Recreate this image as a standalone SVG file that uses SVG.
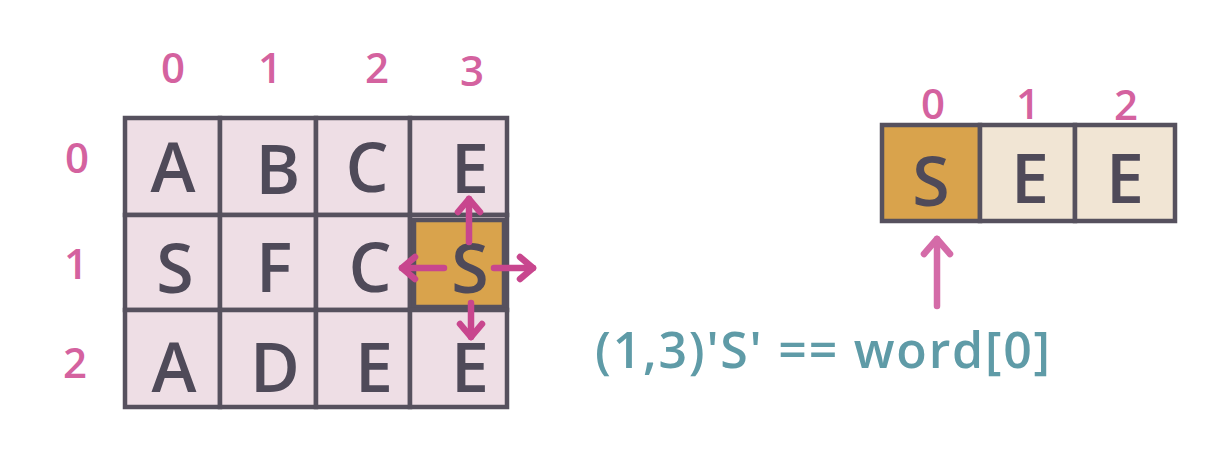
<svg xmlns="http://www.w3.org/2000/svg" width="1210" height="467" viewBox="0 0 1210 467">
<style>
.cell{fill:#EEDEE5;stroke:#56515E;stroke-width:4.5}
.hl{fill:#D9A34C;stroke:#56515E;stroke-width:4.5}
.acell{fill:#F1E5D4;stroke:#56515E;stroke-width:4.5}
.ltr{font-family:"Open Sans","Liberation Sans",sans-serif;font-size:68px;font-weight:600;fill:#4F4A59;text-anchor:middle}
.idx{font-family:"Open Sans","Liberation Sans",sans-serif;font-size:42px;font-weight:600;fill:#D4629F;text-anchor:middle}
.note{font-family:"Open Sans","Liberation Sans",sans-serif;font-size:50px;font-weight:600;fill:#5F9BA7}
.arr{fill:none;stroke:#C8468E;stroke-width:6.5;stroke-linecap:round;stroke-linejoin:round}
.arr2{fill:none;stroke:#D46BA8;stroke-width:6.5;stroke-linecap:round;stroke-linejoin:round}
</style>
<defs>
<marker id="ah" markerUnits="userSpaceOnUse" viewBox="-18 -16 22 32" markerWidth="22" markerHeight="32" refX="0" refY="0" orient="auto">
<path d="M-13,-11 L0,0 L-13,11" fill="none" stroke="#C8468E" stroke-width="6.5" stroke-linecap="round" stroke-linejoin="round"/>
</marker>
<marker id="ah2" markerUnits="userSpaceOnUse" viewBox="-20 -18 24 36" markerWidth="24" markerHeight="36" refX="0" refY="0" orient="auto">
<path d="M-15,-13 L0,0 L-15,13" fill="none" stroke="#D46BA8" stroke-width="6.5" stroke-linecap="round" stroke-linejoin="round"/>
</marker>
</defs>
<rect width="1210" height="467" fill="#FFFFFF"/>

<g id="grid-labels">
<text class="idx" x="173" y="83">0</text>
<text class="idx" x="270" y="83">1</text>
<text class="idx" x="377" y="83">2</text>
<text class="idx" x="472" y="86">3</text>
<text class="idx" x="77" y="173">0</text>
<text class="idx" x="76" y="279">1</text>
<text class="idx" x="75" y="378">2</text>
</g>

<g id="cell-0-0"><rect class="cell" x="125" y="118" width="95" height="97"/><text class="ltr" x="173" y="192">A</text></g>
<g id="cell-0-1"><rect class="cell" x="220" y="118" width="96" height="97"/><text class="ltr" x="278" y="194">B</text></g>
<g id="cell-0-2"><rect class="cell" x="316" y="118" width="94" height="97"/><text class="ltr" x="367" y="192">C</text></g>
<g id="cell-0-3"><rect class="cell" x="410" y="118" width="97" height="97"/><text class="ltr" x="470" y="193">E</text></g>
<g id="cell-1-0"><rect class="cell" x="125" y="215" width="95" height="95"/><text class="ltr" x="175" y="293">S</text></g>
<g id="cell-1-1"><rect class="cell" x="220" y="215" width="96" height="95"/><text class="ltr" x="274" y="292">F</text></g>
<g id="cell-1-2"><rect class="cell" x="316" y="215" width="94" height="95"/><text class="ltr" x="370" y="292">C</text></g>
<g id="cell-1-3"><rect class="cell" x="410" y="215" width="97" height="95"/><rect class="hl" x="414" y="220" width="90" height="87" stroke="none"/><text class="ltr" x="470" y="293">S</text></g>
<g id="cell-2-0"><rect class="cell" x="125" y="310" width="95" height="97"/><text class="ltr" x="174" y="392">A</text></g>
<g id="cell-2-1"><rect class="cell" x="220" y="310" width="96" height="97"/><text class="ltr" x="275" y="392">D</text></g>
<g id="cell-2-2"><rect class="cell" x="316" y="310" width="94" height="97"/><text class="ltr" x="374" y="392">E</text></g>
<g id="cell-2-3"><rect class="cell" x="410" y="310" width="97" height="97"/><text class="ltr" x="470" y="392">E</text></g>

<g id="word-labels">
<text class="idx" x="933" y="119">0</text>
<text class="idx" x="1028" y="119">1</text>
<text class="idx" x="1126" y="120">2</text>
</g>
<g id="word-0"><rect class="hl" x="882" y="125" width="98" height="96"/><text class="ltr" x="931" y="206">S</text></g>
<g id="word-1"><rect class="acell" x="980" y="125" width="95" height="96"/><text class="ltr" x="1030" y="203">E</text></g>
<g id="word-2"><rect class="acell" x="1075" y="125" width="100" height="96"/><text class="ltr" x="1125" y="203">E</text></g>

<g id="connectors">
<path class="arr" d="M469,242 L469,199" marker-end="url(#ah)"/>
<path class="arr" d="M444,268 L402,268" marker-end="url(#ah)"/>
<path class="arr" d="M494,268 L533,268" marker-end="url(#ah)"/>
<path class="arr" d="M471,303 L471,337" marker-end="url(#ah)"/>
<path class="arr2" d="M937,306 L937,239" marker-end="url(#ah2)"/>
</g>

<g id="note">
<text class="note" x="595" y="368" textLength="455" lengthAdjust="spacing">(1,3)'S' == word[0]</text>
</g>
</svg>
